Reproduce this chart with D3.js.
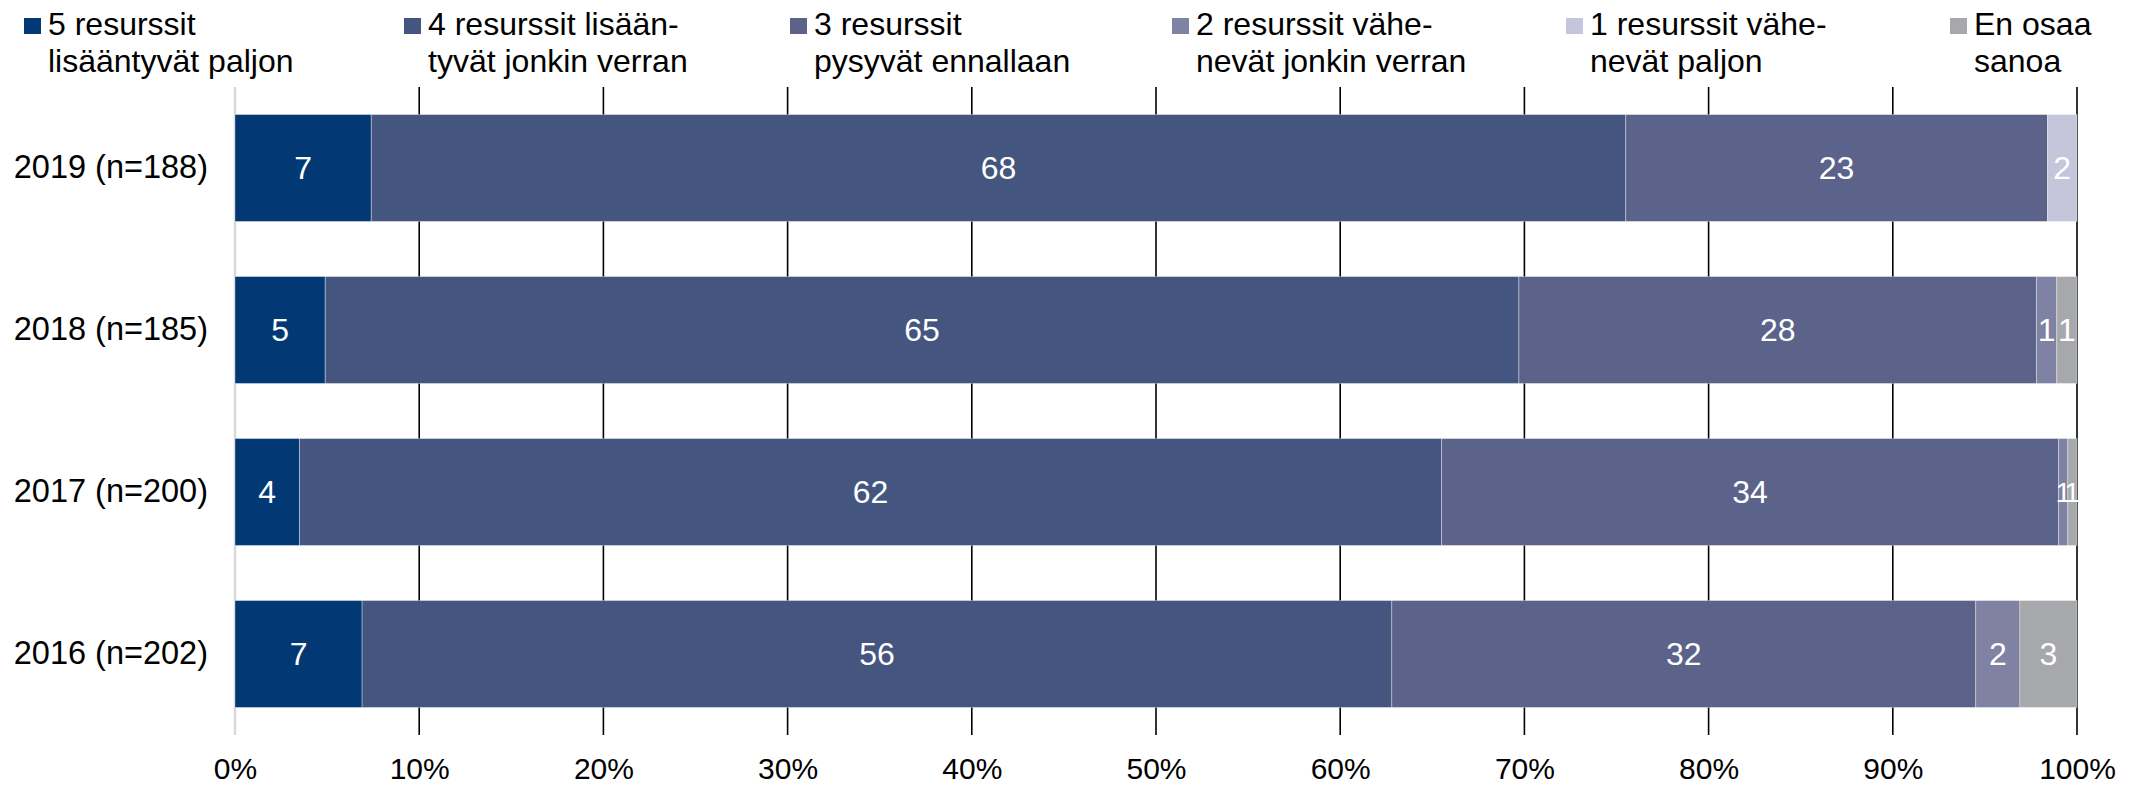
<!DOCTYPE html>
<html>
<head>
<meta charset="utf-8">
<script src="https://cdn.jsdelivr.net/npm/d3@7/dist/d3.min.js"></script>
<style>
  html, body { margin: 0; padding: 0; background: #ffffff; }
  svg { display: block; font-family: "Liberation Sans", Arial, sans-serif; }
</style>
</head>
<body>
<svg id="chart" width="2131" height="789"></svg>
<script>
// ---- Data ----
const categories = ["2019 (n=188)", "2018 (n=185)", "2017 (n=200)", "2016 (n=202)"];
const seriesKeys = ["s5", "s4", "s3", "s2", "s1", "s0"];
const seriesLegend = [
  ["5 resurssit", "lisääntyvät paljon"],
  ["4 resurssit lisään-", "tyvät jonkin verran"],
  ["3 resurssit", "pysyvät ennallaan"],
  ["2 resurssit vähe-", "nevät jonkin verran"],
  ["1 resurssit vähe-", "nevät paljon"],
  ["En osaa", "sanoa"]
];
const s5 = [7.4, 4.9, 3.5, 6.9];
const s4 = [68.1, 64.8, 62.0, 55.9];
const s3 = [22.9, 28.1, 33.5, 31.7];
const s2 = [0, 1.1, 0.5, 2.4];
const s1 = [1.6, 0, 0, 0];
const s0 = [0, 1.1, 0.5, 3.1];
const xTicks = [0, 10, 20, 30, 40, 50, 60, 70, 80, 90, 100];
const xTickLabels = ["0%", "10%", "20%", "30%", "40%", "50%", "60%", "70%", "80%", "90%", "100%"];

// ---- Styles ----
const colors = ["#023874", "#445680", "#5b638b", "#7f82a3", "#c5c6db", "#a7a8ac"];
const fontSize = 32;

const rows = categories.map((c, i) => ({
  cat: c, s5: s5[i], s4: s4[i], s3: s3[i], s2: s2[i], s1: s1[i], s0: s0[i]
}));
const stacked = d3.stack().keys(seriesKeys)(rows);

const svg = d3.select("#chart");
const plotL = 235, plotR = 2077, plotT = 87, plotB = 735;

const x = d3.scaleLinear().domain([0, 100]).range([plotL, plotR]);
const y = d3.scaleBand().domain(categories).range([plotT, plotB])
  .paddingInner(0.34).paddingOuter(0.17);

// gridlines (behind bars)
const grid = svg.append("g");
grid.selectAll("line").data(xTicks).enter().append("line")
  .attr("x1", d => x(d)).attr("x2", d => x(d))
  .attr("y1", plotT).attr("y2", plotB)
  .attr("stroke", d => d === 0 ? "#d9d9d9" : "#000000")
  .attr("stroke-width", d => d === 0 ? 2.5 : 1.6);

// bars
const layers = svg.append("g").selectAll("g").data(stacked).enter().append("g")
  .attr("fill", (d, i) => colors[i]);
layers.selectAll("rect").data(d => d.map(v => ({ v, cat: v.data.cat })))
  .enter().append("rect")
  .filter(d => d.v[1] - d.v[0] > 0)
  .attr("x", d => x(d.v[0]))
  .attr("width", d => x(d.v[1]) - x(d.v[0]))
  .attr("y", d => y(d.cat))
  .attr("height", y.bandwidth())
  .attr("stroke", "rgba(255,255,255,0.35)")
  .attr("stroke-width", 1);

// data labels
const labels = svg.append("g");
stacked.forEach((layer) => {
  layer.forEach(v => {
    const val = v[1] - v[0];
    if (val <= 0) return;
    labels.append("text")
      .attr("x", x((v[0] + v[1]) / 2))
      .attr("y", y(v.data.cat) + y.bandwidth() / 2)
      .attr("dy", "0.35em")
      .attr("text-anchor", "middle")
      .attr("fill", "#ffffff")
      .attr("font-size", val < 1 ? 28 : fontSize)
      .text(Math.round(val));
  });
});

// y axis labels
const yAxis = d3.axisLeft(y).tickSize(0).tickPadding(27);
const gy = svg.append("g").attr("transform", `translate(${plotL},0)`).call(yAxis);
gy.select(".domain").remove();
gy.selectAll("text").attr("font-size", 32.5).attr("fill", "#000")
  .attr("font-family", "'Liberation Sans', Arial, sans-serif");

// x axis labels
const xAxis = d3.axisBottom(x).tickValues(xTicks).tickSize(0)
  .tickFormat((d, i) => xTickLabels[i]);
const gx = svg.append("g").attr("transform", "translate(0,755)").call(xAxis);
gx.select(".domain").remove();
gx.selectAll("text").attr("font-size", 30).attr("fill", "#000")
  .attr("font-family", "'Liberation Sans', Arial, sans-serif");

// legend
const legendX = [24, 404, 790, 1172, 1566, 1950];
const legend = svg.append("g");
seriesLegend.forEach((lines, i) => {
  const g = legend.append("g").attr("transform", `translate(${legendX[i]},0)`);
  g.append("rect").attr("x", 0).attr("y", 18).attr("width", 17).attr("height", 16)
    .attr("fill", colors[i]);
  const t = g.append("text").attr("x", 24).attr("y", 35)
    .attr("font-size", fontSize).attr("fill", "#000");
  lines.forEach((ln, j) => {
    t.append("tspan").attr("x", 24).attr("y", 35 + j * 37).text(ln);
  });
});
</script>
</body>
</html>
